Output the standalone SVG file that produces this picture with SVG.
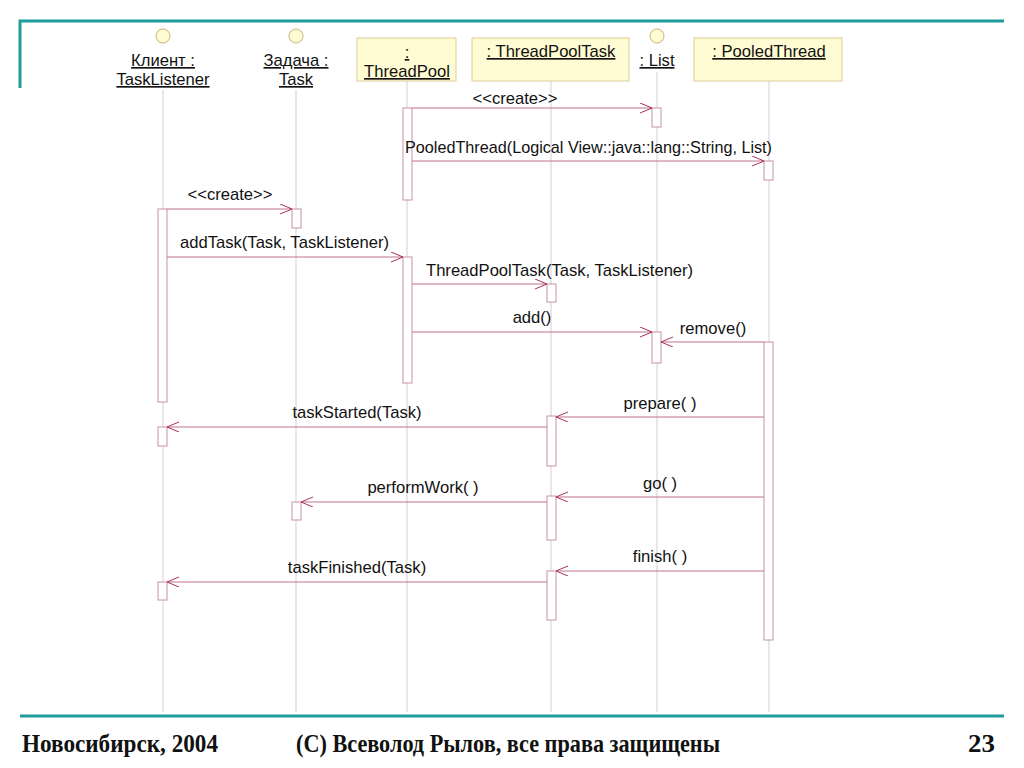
<svg xmlns="http://www.w3.org/2000/svg" width="1024" height="768" viewBox="0 0 1024 768">
<style>
.frame{stroke:#1f9c9c;stroke-width:3;fill:none}
.life{stroke:#d4cfd8;stroke-width:1}
.act{fill:#ffffff;stroke:#c890a8;stroke-width:1}
.obj{fill:#fffbd2;stroke:#dccc98;stroke-width:1}
.actor{fill:#fffbd2;stroke:#c8b478;stroke-width:1}
.msg{stroke:#c07090;stroke-width:1;fill:none;marker-end:url(#arr)}
.t{font-family:"Liberation Sans",Arial,sans-serif;font-size:16.6px;fill:#111}
.u{text-decoration:underline}
.c{text-anchor:middle}
.f{font-family:"Liberation Serif","Times New Roman",serif;font-weight:bold;font-size:25px;fill:#111}
</style>
<defs>
<marker id="arr" markerUnits="userSpaceOnUse" markerWidth="14" markerHeight="12" refX="12" refY="5" orient="auto">
<path d="M0,0 L12,5 L0,10" fill="none" stroke="#a8305e" stroke-width="1"/>
</marker>
</defs>
<rect width="1024" height="768" fill="#ffffff"/>
<g id="frame">
<path class="frame" d="M20,88 V21 H1004"/>
<line class="frame" x1="20" y1="716" x2="1004" y2="716"/>
</g>
<g id="lifelines">
<line class="life" x1="163" y1="90" x2="163" y2="712"/>
<line class="life" x1="296" y1="90" x2="296" y2="712"/>
<line class="life" x1="407" y1="81" x2="407" y2="712"/>
<line class="life" x1="551" y1="81" x2="551" y2="712"/>
<line class="life" x1="657" y1="72" x2="657" y2="712"/>
<line class="life" x1="769" y1="81" x2="769" y2="712"/>
</g>
<g id="node-client">
<circle class="actor" cx="163" cy="36" r="7"/>
<text class="t u c" x="163" y="66">Клиент :</text>
<text class="t u c" x="163" y="85">TaskListener</text>
</g>
<g id="node-task">
<circle class="actor" cx="296" cy="36" r="7"/>
<text class="t u c" x="296" y="66">Задача :</text>
<text class="t u c" x="296" y="85">Task</text>
</g>
<g id="node-threadpool">
<rect class="obj" x="357" y="38" width="99" height="43"/>
<text class="t u c" x="407" y="58">:</text>
<text class="t u c" x="407" y="77">ThreadPool</text>
</g>
<g id="node-threadpooltask">
<rect class="obj" x="472" y="38" width="157" height="43"/>
<text class="t u c" x="551" y="57">: ThreadPoolTask</text>
</g>
<g id="node-list">
<circle class="actor" cx="657" cy="36" r="7"/>
<text class="t u c" x="657" y="66">: List</text>
</g>
<g id="node-pooledthread">
<rect class="obj" x="694" y="38" width="148" height="43"/>
<text class="t u c" x="769" y="57">: PooledThread</text>
</g>
<g id="activations">
<rect class="act" x="403" y="108" width="9" height="92"/>
<rect class="act" x="652" y="108" width="9" height="19"/>
<rect class="act" x="764" y="161" width="9" height="19"/>
<rect class="act" x="158" y="209" width="9" height="193"/>
<rect class="act" x="292" y="209" width="9" height="19"/>
<rect class="act" x="403" y="257" width="9" height="126"/>
<rect class="act" x="547" y="284" width="9" height="18"/>
<rect class="act" x="652" y="332" width="9" height="31"/>
<rect class="act" x="764" y="342" width="9" height="298"/>
<rect class="act" x="547" y="416" width="9" height="50"/>
<rect class="act" x="158" y="427" width="9" height="19"/>
<rect class="act" x="547" y="496" width="9" height="44"/>
<rect class="act" x="292" y="502" width="9" height="18"/>
<rect class="act" x="547" y="571" width="9" height="49"/>
<rect class="act" x="158" y="582" width="9" height="18"/>
</g>
<g id="connectors">
<line class="msg" x1="412" y1="108" x2="652" y2="108"/>
<line class="msg" x1="412" y1="161" x2="764" y2="161"/>
<line class="msg" x1="167" y1="209" x2="292" y2="209"/>
<line class="msg" x1="167" y1="257" x2="403" y2="257"/>
<line class="msg" x1="412" y1="284" x2="547" y2="284"/>
<line class="msg" x1="412" y1="332" x2="652" y2="332"/>
<line class="msg" x1="764" y1="342" x2="661" y2="342"/>
<line class="msg" x1="764" y1="417" x2="556" y2="417"/>
<line class="msg" x1="547" y1="427" x2="167" y2="427"/>
<line class="msg" x1="764" y1="497" x2="556" y2="497"/>
<line class="msg" x1="547" y1="502" x2="301" y2="502"/>
<line class="msg" x1="764" y1="571" x2="556" y2="571"/>
<line class="msg" x1="547" y1="582" x2="167" y2="582"/>
</g>
<g id="labels">
<text class="t c" x="515" y="104">&lt;&lt;create&gt;&gt;</text>
<text class="t" x="405" y="153" textLength="367" lengthAdjust="spacingAndGlyphs">PooledThread(Logical View::java::lang::String, List)</text>
<text class="t c" x="230" y="200">&lt;&lt;create&gt;&gt;</text>
<text class="t" x="180" y="248">addTask(Task, TaskListener)</text>
<text class="t" x="426" y="276">ThreadPoolTask(Task, TaskListener)</text>
<text class="t c" x="532" y="323">add()</text>
<text class="t c" x="713" y="334">remove()</text>
<text class="t c" x="660" y="409">prepare( )</text>
<text class="t c" x="357" y="418">taskStarted(Task)</text>
<text class="t c" x="660" y="489">go( )</text>
<text class="t c" x="423" y="493">performWork( )</text>
<text class="t c" x="660" y="562">finish( )</text>
<text class="t c" x="357" y="573">taskFinished(Task)</text>
</g>
<g id="footer">
<text class="f" x="22" y="752" textLength="196" lengthAdjust="spacingAndGlyphs">Новосибирск, 2004</text>
<text class="f" x="296" y="752" textLength="424" lengthAdjust="spacingAndGlyphs">(С) Всеволод Рылов, все права защищены</text>
<text class="f" x="968" y="752" textLength="27" lengthAdjust="spacingAndGlyphs">23</text>
</g>
</svg>
